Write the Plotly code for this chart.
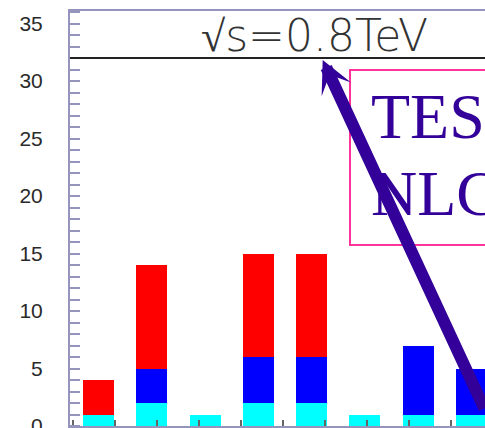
import plotly.graph_objects as go

# ---- data ----
bins = [1, 2, 3, 4, 5, 6, 7, 8]
cyan_vals = [1, 2, 1, 2, 2, 1, 1, 1]
blue_vals = [0, 3, 0, 4, 4, 0, 6, 4]
red_vals = [3, 9, 0, 9, 9, 0, 0, 0]
y_tick_vals = [0, 5, 10, 15, 20, 25, 30, 35]
y_tick_text = ["0", "5", "10", "15", "20", "25", "30", "35"]
energy_label = "√s=0.8TeV"
box_lines = ["TESLA", "NLC"]

W, H = 485, 428
L, R, T, B = 70, 0, 11, 2
PW, PH = W - L - R, H - T - B


def px(xp):  # pixel x -> paper
    return (xp - L) / PW


def py(yp):  # pixel y -> paper
    return (H - B - yp) / PH


fig = go.Figure()
for vals, col in [(cyan_vals, "#00ffff"), (blue_vals, "#0000ff"), (red_vals, "#ff0000")]:
    fig.add_trace(go.Bar(x=bins, y=vals, width=0.582, marker=dict(color=col, line=dict(width=0)),
                         showlegend=False, hoverinfo="skip"))

axis_col = "#9494bc"
y_range = [0, 36.09]
fig.update_layout(
    width=W, height=H,
    margin=dict(l=L, r=R, t=T, b=B, pad=0, autoexpand=False),
    paper_bgcolor="white", plot_bgcolor="white",
    barmode="stack", bargap=0,
    xaxis=dict(range=[0.4648, 8.258], showgrid=False, zeroline=False, automargin=False,
               showline=True, linecolor=axis_col, linewidth=2, mirror=True,
               ticks="inside", ticklen=6, tickwidth=1.5, tickcolor="#666",
               tick0=0.512, dtick=0.7906, showticklabels=False),
    yaxis=dict(range=y_range, showgrid=False, zeroline=False, automargin=False,
               showline=True, linecolor=axis_col, linewidth=2,
               tickmode="array", tickvals=y_tick_vals, ticktext=y_tick_text,
               ticks="outside", ticklen=21, tickwidth=1, tickcolor="rgba(0,0,0,0)",
               ticklabeloverflow="allow",
               minor=dict(ticks="inside", ticklen=10, dtick=1, tickwidth=1.5, tickcolor=axis_col),
               tickfont=dict(family="Liberation Sans, Arial", size=21, color="#2a2a2a")),
    yaxis2=dict(range=y_range, overlaying="y", side="left", anchor="x", automargin=False,
                showgrid=False, zeroline=False, showline=False,
                tickmode="array", tickvals=y_tick_vals, showticklabels=False,
                ticks="inside", ticklen=20, tickwidth=1.5, tickcolor=axis_col),
    hovermode=False,
)

# horizontal separator line for the energy label
fig.add_shape(type="line", xref="paper", yref="y", x0=0, x1=1, y0=32, y1=32,
              line=dict(color="#222", width=2))
# pink box
fig.add_shape(type="rect", xref="paper", yref="paper", x0=px(350), x1=1.3, y0=py(245), y1=py(70),
              line=dict(color="#ff3399", width=2), fillcolor="rgba(0,0,0,0)")

fig.add_annotation(text=energy_label, xref="paper", yref="paper", x=px(314), y=py(35),
                   xanchor="center", yanchor="middle", showarrow=False,
                   font=dict(family="DejaVu Sans", size=44, color="#333333", weight=200))
fig.add_annotation(text=box_lines[0], xref="paper", yref="paper", x=px(369), y=py(116),
                   xanchor="left", yanchor="middle", showarrow=False,
                   font=dict(family="Liberation Serif, Times New Roman", size=64, color="#330099"))
fig.add_annotation(text=box_lines[1], xref="paper", yref="paper", x=px(369), y=py(193.5),
                   xanchor="left", yanchor="middle", showarrow=False,
                   font=dict(family="Liberation Serif, Times New Roman", size=64, color="#330099"))
# arrow
fig.add_annotation(text="", xref="paper", yref="paper", x=px(322.7), y=py(60),
                   ax=238, ay=350, showarrow=True, arrowhead=3, arrowsize=0.45,
                   arrowwidth=12, arrowcolor="#330099")

# remove the default page margin so the figure fills the window exactly
fig.write_html("out.html", config={"displayModeBar": False},
               post_script="document.body.style.margin='0';"
                           "document.documentElement.style.overflow='hidden';")
